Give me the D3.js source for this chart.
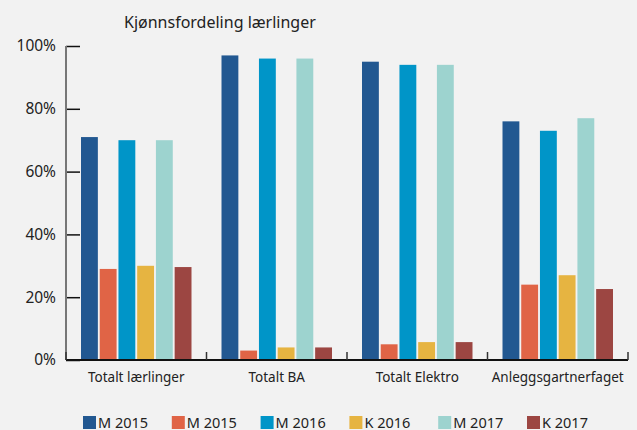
<!DOCTYPE html>
<html>
<head>
<meta charset="utf-8">
<script src="https://cdn.jsdelivr.net/npm/d3@7"></script>
<style>
  body { margin: 0; background: #f2f2f2; }
  svg { display: block; font-family: 'Noto Sans', 'Open Sans', sans-serif; }
</style>
</head>
<body>
<div id="chart"></div>
<script>
const categories = ['Totalt lærlinger', 'Totalt BA', 'Totalt Elektro', 'Anleggsgartnerfaget'];
const seriesNames = ['M 2015', 'M 2015', 'M 2016', 'K 2016', 'M 2017', 'K 2017'];
const seriesColors = ['#225891', '#e06446', '#0095c8', '#e6b441', '#9dd3cf', '#9c4642'];

const m2015 = [71, 97, 95, 76];
const k2015 = [29, 3, 5, 24];
const m2016 = [70, 96, 94, 73];
const k2016 = [30, 4, 5.7, 27];
const m2017 = [70, 96, 94, 77];
const k2017 = [29.6, 4, 5.7, 22.6];
const seriesValues = [m2015, k2015, m2016, k2016, m2017, k2017];

const yTicks = [0, 20, 40, 60, 80, 100];

const width = 637;
const height = 430;
const margin = { top: 46, right: 9, bottom: 70, left: 66 };
const plotW = width - margin.left - margin.right;
const plotH = height - margin.top - margin.bottom;

const svg = d3.select('#chart')
  .append('svg')
  .attr('width', width)
  .attr('height', height);

svg.append('rect')
  .attr('width', width)
  .attr('height', height)
  .attr('fill', '#f2f2f2');

svg.append('text')
  .attr('x', 124)
  .attr('y', 28)
  .attr('font-size', 16)
  .attr('fill', '#222')
  .text('Kjønnsfordeling lærlinger');

const g = svg.append('g')
  .attr('transform', 'translate(' + margin.left + ',' + margin.top + ')');

const x0 = d3.scaleBand()
  .domain(categories)
  .range([0, plotW]);

const x1 = d3.scaleBand()
  .domain(d3.range(seriesNames.length))
  .range([15, x0.bandwidth() - 15])
  .paddingInner(0.1);

const y = d3.scaleLinear()
  .domain([0, 100])
  .range([plotH, 0]);

// bars
const groups = g.selectAll('.grp')
  .data(categories)
  .enter()
  .append('g')
  .attr('transform', d => 'translate(' + x0(d) + ',0)');

groups.selectAll('rect')
  .data((d, ci) => seriesValues.map((vals, si) => ({ si, v: vals[ci] })))
  .enter()
  .append('rect')
  .attr('x', d => x1(d.si))
  .attr('width', x1.bandwidth())
  .attr('y', d => y(d.v))
  .attr('height', d => plotH - y(d.v))
  .attr('fill', d => seriesColors[d.si]);

// y axis
const yAxis = g.append('g')
  .call(d3.axisRight(y)
    .tickValues(yTicks)
    .tickSize(14)
    .tickFormat(''));
yAxis.select('.domain').remove();
yAxis.selectAll('line').attr('stroke', '#111').attr('stroke-width', 1.5);

g.append('line')
  .attr('x1', 0).attr('x2', 0)
  .attr('y1', y(100)).attr('y2', plotH)
  .attr('stroke', '#777')
  .attr('stroke-width', 2);

g.selectAll('.ylab')
  .data(yTicks)
  .enter()
  .append('text')
  .attr('x', -10)
  .attr('y', d => y(d))
  .attr('dy', '0.35em')
  .attr('text-anchor', 'end')
  .attr('font-size', 15.5)
  .attr('fill', '#222')
  .text(d => d + '%');

// x axis
g.append('line')
  .attr('x1', 0).attr('x2', plotW)
  .attr('y1', plotH).attr('y2', plotH)
  .attr('stroke', '#111')
  .attr('stroke-width', 2);

const xTickPos = categories.map(c => x0(c) + x0.bandwidth()).concat([0]);
g.selectAll('.xtick')
  .data(xTickPos)
  .enter()
  .append('line')
  .attr('x1', d => d).attr('x2', d => d)
  .attr('y1', plotH - 8).attr('y2', plotH)
  .attr('stroke', '#333')
  .attr('stroke-width', 1.5);

g.selectAll('.xlab')
  .data(categories)
  .enter()
  .append('text')
  .attr('x', d => x0(d) + x0.bandwidth() / 2)
  .attr('y', plotH + 22)
  .attr('text-anchor', 'middle')
  .attr('font-size', 13.5)
  .attr('fill', '#222')
  .text(d => d);

// legend
const legend = svg.append('g')
  .attr('transform', 'translate(83,416)');

const item = legend.selectAll('g')
  .data(seriesNames)
  .enter()
  .append('g')
  .attr('transform', (d, i) => 'translate(' + (i * 88.8) + ',0)');

item.append('rect')
  .attr('width', 13)
  .attr('height', 13)
  .attr('fill', (d, i) => seriesColors[i]);

item.append('text')
  .attr('x', 15)
  .attr('y', 11.5)
  .attr('font-size', 14.5)
  .attr('fill', '#222')
  .text(d => d);
</script>
</body>
</html>
